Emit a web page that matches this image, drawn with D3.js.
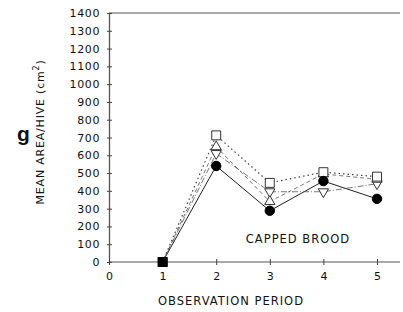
<!DOCTYPE html>
<html><head><meta charset="utf-8">
<script src="https://cdn.jsdelivr.net/npm/d3@7"></script>
<style>body{margin:0;background:#fff}svg{display:block}text{font-family:"DejaVu Sans",sans-serif;fill:#111}</style>
</head><body><svg id="c" width="403" height="312"></svg>
<script>
const periods = [1, 2, 3, 4, 5];
const xTicks = [0, 1, 2, 3, 4, 5];
const yTicks = [0,100,200,300,400,500,600,700,800,900,1000,1100,1200,1300,1400];
const filledCircle = [0, 540, 288, 455, 355];
const openSquare   = [0, 712, 445, 505, 480];
const triangleUp   = [0, 648, 340, 495, 465];
const triangleDown = [0, 610, 395, 395, 440];
const seriesNames = ["filledCircle","openSquare","triangleUp","triangleDown"];
const seriesValues = [filledCircle, openSquare, triangleUp, triangleDown];
const seriesStyle = {
  filledCircle:{sym:d3.symbolCircle,size:70,fill:"#000",stroke:"#000",dash:null,lc:"#222",lw:1},
  openSquare:{sym:d3.symbolSquare,size:80,fill:"#fff",stroke:"#333",dash:"1.5,3",lc:"#444",lw:1.2},
  triangleUp:{sym:d3.symbolTriangle,size:45,fill:"#fff",stroke:"#333",dash:"4,3",lc:"#555",lw:0.8},
  triangleDown:{sym:d3.symbolTriangle,size:45,fill:"#fff",stroke:"#333",dash:"6,2,1,2",lc:"#555",lw:0.8,rot:180}
};

const svg = d3.select("#c");
const x = d3.scaleLinear().domain([0,5]).range([109,377]);
const y = d3.scaleLinear().domain([0,1400]).range([262,13]);

svg.append("line").attr("x1",109).attr("x2",400).attr("y1",y(1400)).attr("y2",y(1400)).attr("stroke","#555").attr("stroke-width",1);

const ya = svg.append("g").attr("transform","translate(109,0)")
  .call(d3.axisLeft(y).tickValues(yTicks).tickSize(0).tickPadding(9).tickFormat(d3.format("d")));
ya.select(".domain").attr("stroke","#555").attr("stroke-width",1.3);
ya.selectAll(".tick line").attr("x1",-2).attr("x2",3).attr("stroke","#444");
ya.selectAll("text").attr("font-size",11).attr("letter-spacing",0.6).style("font-family","DejaVu Sans").attr("fill","#111");

const xa = svg.append("g").attr("transform","translate(0,262)")
  .call(d3.axisBottom(x).tickValues(xTicks).tickSize(0).tickPadding(10).tickFormat(d3.format("d")));
xa.select(".domain").attr("d","M109,0H400").attr("stroke","#555").attr("stroke-width",1);
xa.selectAll(".tick line").attr("y1",-3).attr("y2",3).attr("stroke","#444");
xa.selectAll("text").attr("font-size",11).style("font-family","DejaVu Sans").attr("fill","#111");

const line = d3.line().x((d,i)=>x(periods[i])).y(d=>y(d));
seriesNames.forEach((n,k)=>{
  const s = seriesStyle[n];
  svg.append("path").datum(seriesValues[k]).attr("d",line).attr("fill","none")
    .attr("stroke",s.lc).attr("stroke-width",s.lw).attr("stroke-dasharray",s.dash);
});
seriesNames.slice().reverse().forEach(n=>{
  const k = seriesNames.indexOf(n);
  const s = seriesStyle[n];
  seriesValues[k].forEach((v,i)=>{
    if(i===0){
      svg.append("path").attr("d",d3.symbol(d3.symbolSquare,90)())
        .attr("transform",`translate(${x(periods[i])},${y(v)})`).attr("fill","#000");
      return;
    }
    svg.append("path").attr("d",d3.symbol(s.sym,s.size)())
      .attr("transform",`translate(${x(periods[i])},${y(v)}) rotate(${s.rot||0})`)
      .attr("fill",s.fill).attr("stroke",s.stroke).attr("stroke-width",1);
  });
});

svg.append("text").attr("x",231).attr("y",305).attr("text-anchor","middle").attr("font-size",11.5).attr("letter-spacing",1).text("OBSERVATION PERIOD");
svg.append("text").attr("x",298).attr("y",243).attr("text-anchor","middle").attr("font-size",11.5).attr("letter-spacing",1).text("CAPPED BROOD");
const yt = svg.append("text").attr("transform","translate(44,132) rotate(-90)").attr("text-anchor","middle").attr("font-size",11).attr("letter-spacing",0.8);
yt.append("tspan").text("MEAN AREA/HIVE (cm");
yt.append("tspan").attr("dy",-5).attr("font-size",8).text("2");
yt.append("tspan").attr("dy",5).text(")");
svg.append("text").attr("x",17).attr("y",141).attr("font-size",21).attr("font-weight","bold").style("font-family","Liberation Sans").text("g");
</script></body></html>
